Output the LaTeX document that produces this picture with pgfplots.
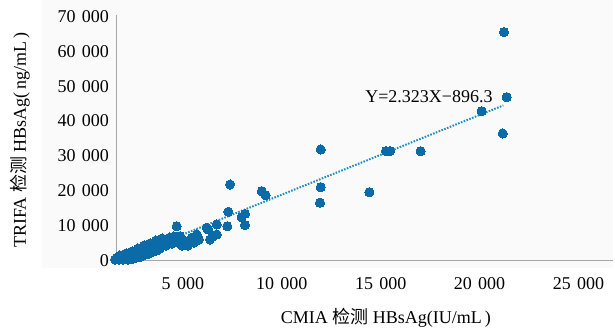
\documentclass[border=0pt]{standalone}
\usepackage{fontspec}
\setmainfont{Liberation Serif}
\newfontfamily\cjk{Noto Sans CJK SC}
\usepackage{pgfplots}
\pgfplotsset{compat=1.18}
\definecolor{dotblue}{HTML}{0B6AA8}
\definecolor{lineblue}{HTML}{2090C2}
\definecolor{axgray}{HTML}{A6A6A6}
\definecolor{bggray}{HTML}{FAFAFA}
\newcommand{\tsp}{\hspace{0.35em}}
\begin{document}
\fontsize{18}{21}\selectfont
\begin{tikzpicture}[x=1pt,y=1pt]
\useasboundingbox (0,0) rectangle (615,334);
\fill[bggray] (42,66) rectangle (613,334);
\begin{axis}[
  at={(116pt,73.5pt)}, anchor=south west,
  scale only axis, width=497pt, height=245.5pt,
  xmin=1618, xmax=26746, ymin=0, ymax=70400,
  scaled ticks=false,
  axis x line=bottom, axis y line=left,
  axis line style={-, draw=axgray, line width=0.8pt},
  major tick length=0pt,
  xtick={5000,10000,15000,20000,25000},
  xticklabels={5\tsp000,10\tsp000,15\tsp000,20\tsp000,25\tsp000},
  ytick={0,10000,20000,30000,40000,50000,60000,70000},
  yticklabels={0,10\tsp000,20\tsp000,30\tsp000,40\tsp000,50\tsp000,60\tsp000,70\tsp000},
  xticklabel style={font=\fontsize{18}{21}\selectfont, yshift=-11pt},
  yticklabel style={font=\fontsize{18}{21}\selectfont, xshift=-1pt},
  xlabel={CMIA {\cjk 检测} HBsAg(IU/mL\,)},
  ylabel={TRIFA {\cjk 检测} HBsAg(\,ng/mL\,)},
  xlabel style={font=\fontsize{18}{21}\selectfont, at={(axis description cs:0.543,-0.234)}, anchor=center},
  ylabel style={font=\fontsize{18}{21}\selectfont, at={(axis description cs:-0.193,0.491)}, anchor=center},
  clip=false,
]
\addplot[lineblue, line width=2pt, dash pattern=on 1.6pt off 1.4pt] coordinates {(1750,30) (21200,44470)};
\addplot[dotblue, only marks, mark=*, mark size=4.6pt, mark options={draw=dotblue, fill=dotblue, line width=0pt}] coordinates {
(1567,287) (1770,287) (1921,574) (2073,861) (2225,1148) (2376,1435) (2528,1721)
(2680,2295) (2831,2582) (2983,2869) (3135,3156) (3286,3730) (3438,4017) (3590,4304)
(3741,4590) (3893,5164) (4045,5451) (4196,5738) (1820,1435) (2124,2008) (2427,2582)
(2730,3443) (3034,4304) (3337,4877) (3640,5738) (3944,6312) (2225,287) (2629,861)
(3084,1721) (3489,2582) (3843,3443) (4146,4304) (4348,6599) (4550,6886) (4449,4877)
(1670,800) (1870,700) (2000,1200) (2150,1500) (2300,900) (2450,1300) (2600,1900)
(2760,1500) (2900,2100) (3050,2600) (3200,2300) (3380,3000) (3550,3300) (3700,3900)
(3820,4700) (4000,4300) (4100,5000) (4300,5400) (1950,250) (2400,400) (2850,1100)
(3300,2000) (3650,2800) (4250,6200) (4650,5700) (4800,5000)
(4687,9841) (4854,6972) (5107,5537) (5445,6513) (4955,4304) (5258,4304) (5562,5164)
(5698,7459) (5814,6025) (6204,9382) (6285,8894) (6537,6972) (6709,7459) (6709,10328)
(6371,6025) (7245,9841) (7296,13972) (7382,21804) (7973,12423) (8140,13398) (8140,10128)
(8985,19882) (9186,18735) (11968,31846) (11968,21030) (11932,16554) (14425,19595)
(15269,31358) (15471,31358) (17023,31358) (20108,42834) (21170,36436) (21371,46852)
(21235,65499)
};
\node[font=\fontsize{18}{21}\selectfont, text=black] at (axis cs:17443,47052) {Y=2.323X−896.3};
\end{axis}
\end{tikzpicture}
\end{document}
